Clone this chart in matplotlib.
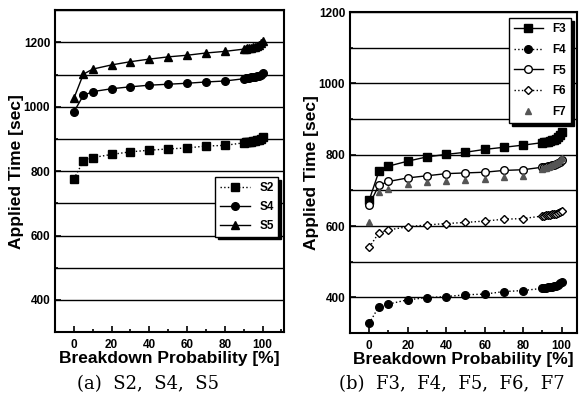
import matplotlib
matplotlib.use("Agg")
import matplotlib.pyplot as plt
from matplotlib.ticker import MultipleLocator

plt.rcParams['font.family'] = ['Liberation Sans', 'DejaVu Sans']

# 击穿概率 [%]
prob = [0, 5, 10, 20, 30, 40, 50, 60, 70, 80, 90, 91, 92, 93, 94, 95, 96, 97, 98, 99, 100]

# (a) 组
s2 = [776, 831, 842, 852, 860, 865, 869, 872, 878, 880, 888, 889, 890, 891, 892, 893, 894, 896, 898, 901, 907]
s4 = [984, 1035, 1047, 1056, 1062, 1067, 1070, 1073, 1077, 1080, 1087, 1088, 1089, 1090, 1091, 1092, 1093, 1095, 1097, 1100, 1104]
s5 = [1026, 1101, 1117, 1130, 1140, 1148, 1155, 1160, 1167, 1172, 1179, 1180, 1181, 1182, 1183, 1185, 1187, 1189, 1192, 1197, 1205]

# (b) 组
f3 = [673, 753, 768, 782, 794, 801, 807, 815, 821, 827, 834, 835, 836, 837, 838, 840, 842, 845, 849, 855, 864]
f4 = [327, 374, 381, 393, 399, 402, 407, 409, 416, 419, 425, 426, 427, 428, 429, 430, 431, 433, 435, 439, 444]
f5 = [660, 714, 725, 735, 741, 747, 749, 751, 756, 758, 765, 766, 767, 768, 769, 770, 772, 774, 777, 781, 786]
f6 = [540, 581, 589, 598, 603, 607, 610, 614, 619, 621, 628, 629, 630, 631, 632, 633, 634, 635, 636, 638, 641]
f7 = [612, 696, 705, 718, 723, 727, 730, 732, 737, 740, 760, 762, 764, 766, 768, 770, 773, 776, 780, 785, 792]

fig = plt.figure(figsize=(5.79, 4.07), dpi=100)
ax1 = fig.add_axes([0.095, 0.184, 0.396, 0.791])
ax2 = fig.add_axes([0.6045, 0.182, 0.392, 0.788])

ms = 5.5
ax1.plot(prob, s2, ':', color='black', marker='s', ms=ms, lw=1, label='S2')
ax1.plot(prob, s4, '-', color='black', marker='o', ms=ms, lw=1, label='S4')
ax1.plot(prob, s5, '-', color='black', marker='^', ms=ms + 0.5, lw=1, label='S5')

ax2.plot(prob, f3, '-', color='black', marker='s', ms=ms, lw=1, label='F3')
ax2.plot(prob, f4, ':', color='black', marker='o', ms=ms, lw=1, label='F4')
ax2.plot(prob, f5, '-', color='black', marker='o', mfc='white', ms=ms, lw=1, label='F5')
ax2.plot(prob, f6, ':', color='black', marker='D', mfc='white', ms=ms - 1, lw=1, label='F6')
ax2.plot(prob, f7, linestyle='none', color='#555555', marker='^', ms=ms - 1.5, label='F7')

for ax, ylim, xlim in [(ax1, (300, 1300), (-10, 111.5)), (ax2, (300, 1200), (-10, 108))]:
    ax.set_xlim(*xlim)
    ax.set_ylim(*ylim)
    ax.xaxis.set_major_locator(MultipleLocator(20))
    ax.xaxis.set_minor_locator(MultipleLocator(10))
    ax.yaxis.set_major_locator(MultipleLocator(200))
    ax.yaxis.set_minor_locator(MultipleLocator(100))
    ax.grid(True, which='both', axis='y', color='black', lw=1)
    ax.set_axisbelow(True)
    ax.tick_params(which='both', direction='in', labelsize=8.5, width=1.2)
    ax.tick_params(which='major', length=4)
    ax.tick_params(which='minor', length=2)
    ax.tick_params(axis='x', pad=5)
    for lab in ax.get_xticklabels() + ax.get_yticklabels():
        lab.set_fontweight('bold')
    for sp in ax.spines.values():
        sp.set_linewidth(1.5)
    ax.set_xlabel("Breakdown Probability [%]", fontsize=12.5, fontweight='bold', labelpad=0)
    ax.set_ylabel("Applied Time [sec]", fontsize=12.5, fontweight='bold', labelpad=0)

leg1 = ax1.legend(loc='upper right', bbox_to_anchor=(1.0, 0.50), fancybox=False,
                  edgecolor='black', framealpha=1, handlelength=2.5, labelspacing=0.6,
                  prop={'weight': 'bold', 'size': 8.5},
                  shadow={'color': 'black', 'alpha': 1})
leg2 = ax2.legend(loc='upper right', bbox_to_anchor=(1.0, 1.0), fancybox=False,
                  edgecolor='black', framealpha=1, handlelength=2.5, labelspacing=0.75,
                  prop={'weight': 'bold', 'size': 8.5},
                  shadow={'color': 'black', 'alpha': 1})

fig.text(0.255, 0.045, "(a)  S2,  S4,  S5", ha='center', fontsize=13, family='DejaVu Serif')
fig.text(0.78, 0.045, "(b)  F3,  F4,  F5,  F6,  F7", ha='center', fontsize=13, family='DejaVu Serif')

fig.savefig("out.png", dpi=100)
